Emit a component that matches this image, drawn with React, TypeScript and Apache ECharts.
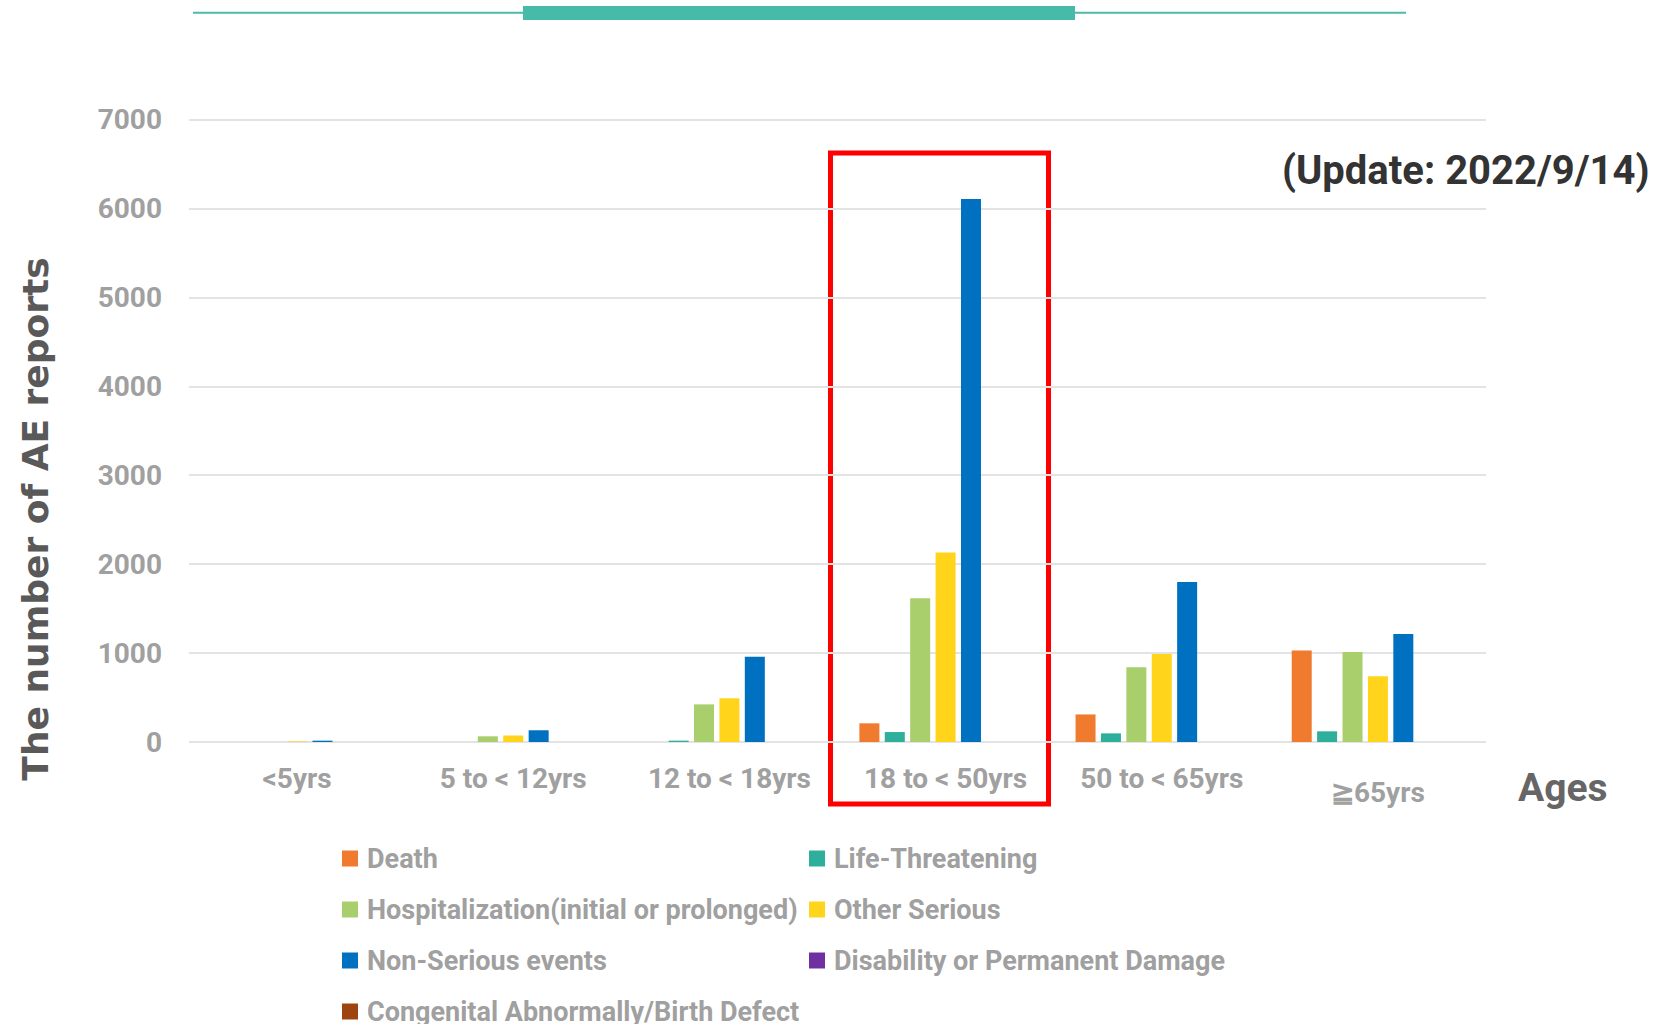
import React, { useEffect, useRef } from "react";
import * as echarts from "echarts";

const categories = ["<5yrs", "5 to < 12yrs", "12 to < 18yrs", "18 to < 50yrs", "50 to < 65yrs", "≧65yrs"];
const yTicks = { min: 0, max: 7000, interval: 1000 };

const death = [0, 0, 0, 210, 310, 1030];
const lifeThreatening = [0, 0, 15, 112, 97, 120];
const hospitalization = [0, 64, 423, 1617, 840, 1012];
const otherSerious = [6, 73, 492, 2132, 990, 738];
const nonSerious = [15, 132, 960, 6106, 1798, 1214];
const disability = [0, 0, 0, 0, 0, 0];
const congenital = [0, 0, 0, 0, 0, 0];

const seriesNames = [
  "Death",
  "Life-Threatening",
  "Hospitalization(initial or prolonged)",
  "Other Serious",
  "Non-Serious events",
  "Disability or Permanent Damage",
  "Congenital Abnormally/Birth Defect",
];
const seriesValues = [death, lifeThreatening, hospitalization, otherSerious, nonSerious, disability, congenital];
const seriesColors = ["#F07A2E", "#2EAF9C", "#A9CF6C", "#FFD41A", "#0070C0", "#7030A0", "#9E440F"];

const leftLegend = [seriesNames[0], seriesNames[2], seriesNames[4], seriesNames[6]];
const rightLegend = [seriesNames[1], seriesNames[3], seriesNames[5]];

const FONT = "Roboto";
const GRAY = "#A0A0A0";

const legendText = {
  color: GRAY,
  fontFamily: FONT,
  fontWeight: "bold",
  fontSize: 27,
  lineHeight: 31,
  padding: [0, 0, 0, 4],
};

export default function App() {
  const ref = useRef<HTMLDivElement>(null);
  useEffect(() => {
    if (!ref.current) return;
    const chart = echarts.init(ref.current, null, { renderer: "svg" });
    const option: any = {
      animation: false,
      backgroundColor: "#ffffff",
      grid: { left: 189, right: 179, top: 119.5, bottom: 282, containLabel: false },
      xAxis: {
        type: "category",
        data: categories.map((c, i) =>
          i === categories.length - 1
            ? { value: c, textStyle: { padding: [14, 0, 0, 0] } }
            : c
        ),
        axisLine: { show: false },
        axisTick: { show: false },
        axisLabel: {
          color: GRAY,
          fontFamily: FONT,
          fontWeight: "bold",
          fontSize: 28,
          margin: 22,
          interval: 0,
        },
      },
      yAxis: {
        type: "value",
        min: yTicks.min,
        max: yTicks.max,
        interval: yTicks.interval,
        axisLine: { show: false },
        axisTick: { show: false },
        splitLine: { lineStyle: { color: "#E3E3E3", width: 2 } },
        axisLabel: {
          color: GRAY,
          fontFamily: FONT,
          fontWeight: "bold",
          fontSize: 28,
          margin: 27,
          formatter: (v: number) => String(v),
        },
      },
      legend: [
        {
          data: leftLegend,
          orient: "vertical",
          left: 337,
          top: 838,
          height: 240,
          itemWidth: 16,
          itemHeight: 16,
          itemGap: 20,
          icon: "rect",
          textStyle: legendText,
          selectedMode: false,
        },
        {
          data: rightLegend,
          orient: "vertical",
          left: 804,
          top: 838,
          height: 240,
          itemWidth: 16,
          itemHeight: 16,
          itemGap: 20,
          icon: "rect",
          textStyle: legendText,
          selectedMode: false,
        },
      ],
      series: seriesNames.map((name, i) => ({
        name,
        type: "bar",
        data: seriesValues[i],
        barWidth: 20,
        barGap: "27%",
        itemStyle: { color: seriesColors[i] },
      })),
      graphic: [
        { type: "line", shape: { x1: 193, y1: 12.7, x2: 1406, y2: 12.7 }, style: { stroke: "#4BBBAA", lineWidth: 2 } },
        { type: "rect", shape: { x: 523, y: 6, width: 552, height: 14 }, style: { fill: "#48BAAA" } },
        {
          type: "rect",
          shape: { x: 830.5, y: 153, width: 218, height: 651 },
          style: { fill: "none", stroke: "#FF0000", lineWidth: 5 },
        },
        {
          type: "text",
          x: 35,
          y: 519,
          rotation: Math.PI / 2,
          style: {
            text: "The number of AE reports",
            fill: "#595959",
            font: "bold 36px 'DejaVu Sans', sans-serif",
            textAlign: "center",
            textVerticalAlign: "middle",
          },
        },
        {
          type: "text",
          x: 1518,
          y: 788,
          style: {
            text: "Ages",
            fill: "#666666",
            font: `bold 39px ${FONT}`,
            textAlign: "left",
            textVerticalAlign: "middle",
          },
        },
        {
          type: "text",
          x: 1282,
          y: 170,
          style: {
            text: "(Update: 2022/9/14)",
            fill: "#333333",
            font: `bold 40px ${FONT}`,
            textAlign: "left",
            textVerticalAlign: "middle",
          },
        },
      ],
    };
    chart.setOption(option);
    return () => chart.dispose();
  }, []);
  return <div ref={ref} style={{ position: "absolute", left: 0, top: 0, width: 1665, height: 1024 }} />;
}
